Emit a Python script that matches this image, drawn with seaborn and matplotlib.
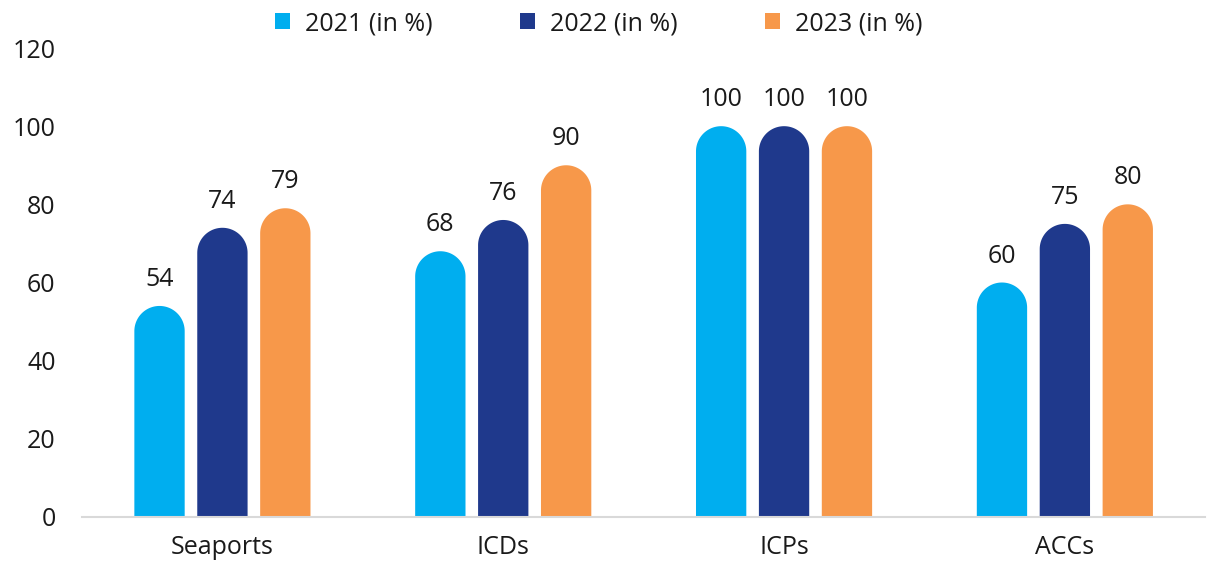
import numpy as np
import pandas as pd
import matplotlib
matplotlib.use("Agg")
import matplotlib.pyplot as plt
import seaborn as sns
from matplotlib.patches import Polygon, Patch

categories = ["Seaports", "ICDs", "ICPs", "ACCs"]
series = ["2021 (in %)", "2022 (in %)", "2023 (in %)"]
v2021 = [54, 68, 100, 60]
v2022 = [74, 76, 100, 75]
v2023 = [79, 90, 100, 80]
colors = ["#00AEEF", "#1F398C", "#F7984A"]
yticks = [0, 20, 40, 60, 80, 100, 120]

df = pd.DataFrame({
    "category": categories * 3,
    "series": [series[0]] * 4 + [series[1]] * 4 + [series[2]] * 4,
    "value": v2021 + v2022 + v2023,
})

sns.set_theme(style="white")
plt.rcParams["font.family"] = ["Open Sans", "DejaVu Sans"]
txt = "#1a1a1a"
fs = 18

fig = plt.figure(figsize=(12.15, 5.65), dpi=100)
ax = fig.add_axes([0.0675, 0.085, 0.9245, 0.83])
sns.barplot(data=df, x="category", y="value", hue="series", palette=colors,
            width=0.672, gap=0.2, ax=ax, legend=False, saturation=1)
ax.set_ylim(0, 120)
ax.set_xlim(-0.5, 3.5)
ax.set_yticks(yticks)

# Replace rectangles with round-topped bars
fig.canvas.draw()
bbox = ax.get_window_extent()
px_per_x = bbox.width / 4.0
px_per_y = bbox.height / 120.0
bars = list(ax.patches)
for p in bars:
    x0 = p.get_x(); w = p.get_width(); h = p.get_height()
    if h <= 0:
        continue
    col = p.get_facecolor()
    p.remove()
    rx = w / 2
    ry = rx * px_per_x / px_per_y
    cx = x0 + rx
    cy = h - ry
    t = np.linspace(np.pi, 0, 60)
    arc = np.column_stack([cx + rx * np.cos(t), cy + ry * np.sin(t)])
    pts = np.vstack([[x0, 0], arc, [x0 + w, 0]])
    ax.add_patch(Polygon(pts, closed=True, facecolor=col, edgecolor="none"))

# value labels
slot = 0.672 / 3
for i, vals in enumerate([v2021, v2022, v2023]):
    for j, v in enumerate(vals):
        xc = j + (i - 1) * slot
        ax.annotate(str(v), (xc, v), xytext=(0, 10), textcoords="offset points",
                    ha="center", va="bottom", fontsize=fs, color=txt)

for s in ["top", "right", "left"]:
    ax.spines[s].set_visible(False)
ax.spines["bottom"].set_color("#d9d9d9")
ax.spines["bottom"].set_linewidth(1.5)
ax.set_xlabel("")
ax.set_ylabel("")
ax.tick_params(axis="both", length=0, labelsize=fs, colors=txt)
ax.tick_params(axis="y", pad=19)
ax.tick_params(axis="x", pad=13)
ax.grid(False)

handles = [Patch(facecolor=c, edgecolor="none") for c in colors]
fig.legend(handles, series, loc="upper center", bbox_to_anchor=(0.493, 1.02), ncol=3,
           frameon=False, fontsize=fs, handlelength=0.6, handleheight=0.6,
           handletextpad=0.6, columnspacing=3.5, labelcolor=txt)

fig.savefig("out.png", dpi=100)
